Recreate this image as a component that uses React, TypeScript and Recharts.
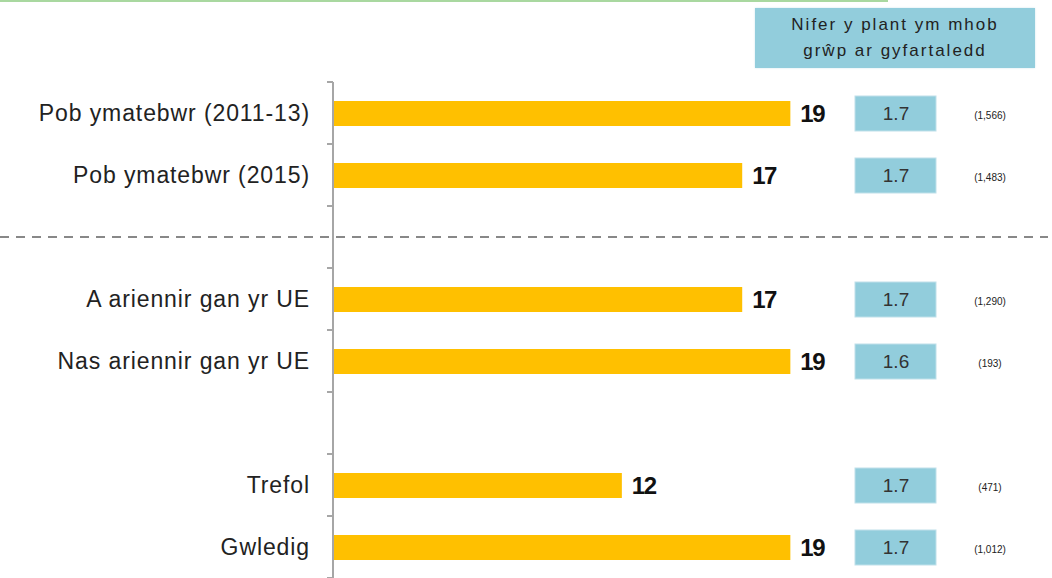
import React from 'react';
import { BarChart, Bar, XAxis, YAxis, ReferenceLine, LabelList } from 'recharts';

const FONT = '"Liberation Sans", Arial, Helvetica, sans-serif';

// rows, including two empty spacer rows
const rowKeys = ['r1', 'r2', 'gap1', 'r3', 'r4', 'gap2', 'r5', 'r6'];
const categories = [
    'Pob ymatebwr (2011-13)',
    'Pob ymatebwr (2015)',
    '',
    'A ariennir gan yr UE',
    'Nas ariennir gan yr UE',
    '',
    'Trefol',
    'Gwledig'
];
const children = [19, 17, null, 17, 19, null, 12, 19];
const averages = [1.7, 1.7, null, 1.7, 1.6, null, 1.7, 1.7];
const bases = ['(1,566)', '(1,483)', null, '(1,290)', '(193)', null, '(471)', '(1,012)'];

const data = rowKeys.map((key, i) => ({
    key,
    value: children[i],
    avg: averages[i],
    base: bases[i]
}));

const rowCenter = (props: any) => Number(props.y) + Number(props.height) / 2;

// category tick: name on the left, small tick marks on the band boundaries
const CategoryTick = (props: any) => {
    const { x, y, payload, index } = props;
    const i = rowKeys.indexOf(payload.value);
    const half = payload.offset != null ? Number(payload.offset) : 31;
    const isLast = index === rowKeys.length - 1;
    return (
        <g>
            <line x1={x - 6} x2={x} y1={y - half} y2={y - half} stroke="#A6A6A6" strokeWidth={2} />
            {isLast && <line x1={x - 6} x2={x} y1={y + half} y2={y + half} stroke="#A6A6A6" strokeWidth={2} />}
            {i >= 0 && categories[i] && (
                <text x={x - 23} y={y} textAnchor="end" dominantBaseline="central" fontSize={23} fill="#222" fontFamily={FONT} letterSpacing={0.9}>
                    {categories[i]}
                </text>
            )}
        </g>
    );
};

const renderAvg = (props: any) => {
    const { y, value } = props;
    if (value == null || y == null) return null;
    const cy = rowCenter(props);
    return (
        <g>
            <rect x={855} y={cy - 17.5} width={81} height={35} fill="#92CDDC" stroke="#BFE0EA" strokeWidth={1} />
            <text x={896} y={cy} textAnchor="middle" dominantBaseline="central" fontSize={19} fill="#333" fontFamily={FONT}>
                {Number(value).toFixed(1)}
            </text>
        </g>
    );
};

const renderBase = (props: any) => {
    const { y, value } = props;
    if (value == null || y == null) return null;
    return (
        <text x={990} y={rowCenter(props) + 2} textAnchor="middle" dominantBaseline="central" fontSize={10} fill="#222" fontFamily={FONT}>
            {value}
        </text>
    );
};

export default function App() {
    return (
        <div style={{ position: 'absolute', left: 0, top: 0, width: 1052, height: 578, background: '#fff', fontFamily: FONT }}>
            <div style={{ position: 'absolute', left: 0, top: 0, width: 888, height: 2, background: '#A9D8A0' }} />
            <div
                style={{
                    position: 'absolute',
                    left: 755,
                    top: 8,
                    width: 280,
                    height: 60,
                    background: '#92CDDC',
                    boxShadow: '0 0 2px #cfe6ee',
                    display: 'flex',
                    flexDirection: 'column',
                    justifyContent: 'center',
                    alignItems: 'center',
                    fontSize: 17,
                    lineHeight: '26px',
                    color: '#222',
                    letterSpacing: 2
                }}
            >
                <div>Nifer y plant ym mhob</div>
                <div>grŵp ar gyfartaledd</div>
            </div>
            <BarChart
                width={1052}
                height={578}
                layout="vertical"
                data={data}
                margin={{ top: 82, right: 45, bottom: 0, left: 0 }}
                barCategoryGap={0}
                style={{ position: 'absolute', left: 0, top: 0 }}
            >
                <XAxis type="number" domain={[0, 28]} hide />
                <YAxis
                    type="category"
                    dataKey="key"
                    width={333}
                    interval={0}
                    tickSize={0}
                    tickMargin={0}
                    tickLine={false}
                    tick={<CategoryTick />}
                    axisLine={{ stroke: '#A6A6A6', strokeWidth: 2 }}
                />
                <ReferenceLine
                    y="gap1"
                    stroke="#888"
                    strokeWidth={2}
                    strokeDasharray="9 7"
                    ifOverflow="visible"
                    shape={(p: any) => (
                        <line x1={0} x2={1048} y1={p.y1} y2={p.y1} stroke="#888" strokeWidth={2} strokeDasharray="9 7" />
                    )}
                />
                <Bar dataKey="value" fill="#FFC000" barSize={25} isAnimationActive={false}>
                    <LabelList
                        dataKey="value"
                        position="right"
                        offset={10}
                        fill="#111"
                        fontSize={24}
                        fontWeight="bold"
                        fontFamily={FONT}
                        letterSpacing={-1.5}
                    />
                    <LabelList dataKey="avg" content={renderAvg} />
                    <LabelList dataKey="base" content={renderBase} />
                </Bar>
            </BarChart>
        </div>
    );
}
